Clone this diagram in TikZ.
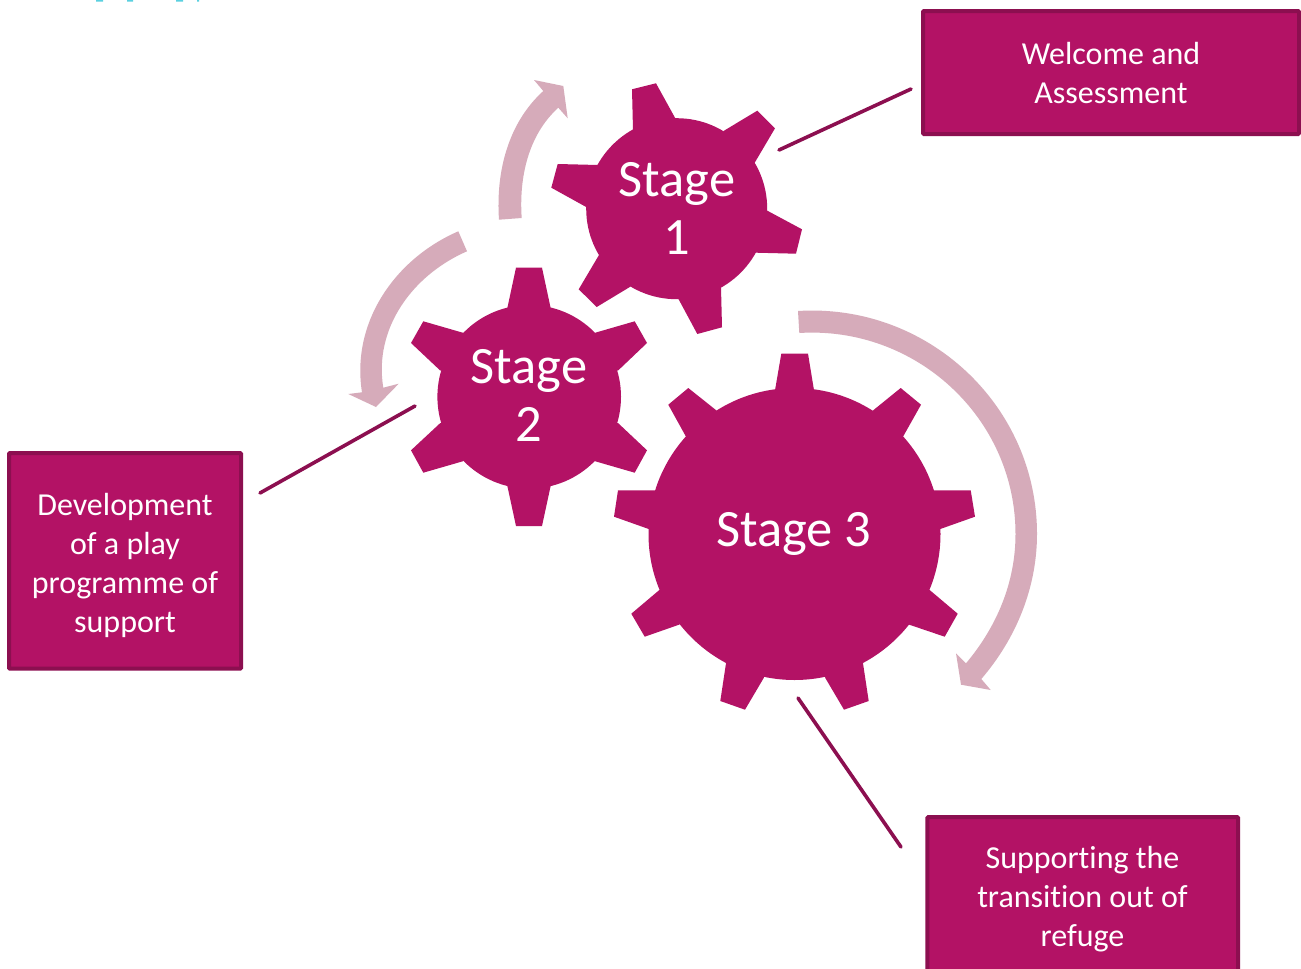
\documentclass[tikz,border=0pt]{standalone}
\usepackage{fontspec}
\setmainfont{Carlito}[Ligatures=CommonOff]
\definecolor{gearcol}{HTML}{B31265}
\definecolor{edgecol}{HTML}{8C0F50}
\definecolor{flowcol}{HTML}{D6ABBA}
\definecolor{topcol}{HTML}{5AD0E0}
\tikzset{
  gearfill/.style={fill=gearcol,draw=none},
  flowarrow/.style={fill=flowcol,draw=none},
  stagelabel/.style={text=white,align=center,inner sep=0pt,font=\fontsize{52.5}{58}\selectfont},
  infobox/.style={draw=edgecol,line width=4pt,fill=gearcol,inner sep=0pt,rounded corners=1pt},
  infotext/.style={text=white,align=center,inner sep=0pt,font=\fontsize{32}{39}\selectfont},
  leader/.style={draw=edgecol,line width=3.6pt,line cap=round}
}
\newcommand{\gearteeth}[3]{%
  \fill[gearfill] (#1) circle[radius=#2pt];
  \foreach \pa/\pb/\pc/\pd in {#3}{\fill[gearfill] (#1) -- (\pa) -- (\pb) -- (\pc) -- (\pd) -- cycle;}%
}
\begin{document}
\begin{tikzpicture}[x=1pt,y=-1pt]
\clip (0,0) rectangle (1301,969);
\fill[white] (0,0) rectangle (1301,969);
% clipped fragments at the top edge
\fill[topcol] (96,0) rectangle (103,1.5) (127,0) rectangle (133,1.5) (176,0) rectangle (183,1.5) (197,0) rectangle (199,1.5);
% gears
\coordinate (g1) at (676.7,208.7);
\coordinate (g2) at (529.2,396.8);
\coordinate (g3) at (794.5,534);
\gearteeth{g1}{90.5}{
 {633,130}/{632,89.3}/{656,83.3}/{675.3,118.3},
 {724,130.7}/{757.3,110.7}/{775,128.3}/{754.7,162.7},
 {767.3,210.7}/{802,229.3}/{796,253.7}/{756,252.7},
 {721,287.3}/{722,327.3}/{697.3,334}/{678.3,298.7},
 {630.3,286.7}/{596.7,307}/{578.7,289.3}/{599,255},
 {586.7,207.3}/{551.3,187.7}/{557.7,164}/{598,165}}
\gearteeth{g2}{91.8}{
 {507.3,308.3}/{516,267.7}/{542,267.7}/{550.7,308.3},
 {595.3,332.7}/{634.7,321.3}/{647,343}/{618.3,370.3},
 {618.3,423.3}/{647,450.3}/{634.7,472.7}/{595.3,461.3},
 {550.7,485.7}/{542,526}/{516,526}/{507.3,485.7},
 {462.7,461.3}/{423.3,472.7}/{411,450.3}/{440,423.3},
 {440,370.3}/{411,343}/{423.3,321.3}/{462.7,332.7}}
\gearteeth{g3}{146}{
 {775,390.3}/{781.3,353.7}/{808,353.7}/{814,390.3},
 {872.7,410.7}/{900.7,388}/{921,404.7}/{903,436.7},
 {933.3,490.3}/{970.7,490.3}/{975,516.7}/{940.3,529},
 {930,590.3}/{957.7,613.7}/{944.7,636.7}/{909.3,624.7},
 {863,663.3}/{868.7,701}/{844,709.7}/{825.3,678},
 {763.7,678}/{745,709.7}/{720.3,701}/{726,663.3},
 {679,624.7}/{644.7,636.7}/{631.3,613.7}/{659,590.3},
 {648.7,529}/{614,516.7}/{618,490.3}/{655.7,490.3},
 {686,436.7}/{668.3,404.7}/{688.3,388}/{716.7,410.7}}
\node[stagelabel] (s1) at (677,208) {Stage\\1};
\node[stagelabel] (s2) at (529,395) {Stage\\2};
\node[stagelabel] (s3) at (794,534) {Stage 3};
% flow arrows
\fill[flowarrow] (499,219.7) .. controls (495.7,172) and (508,123) .. (543.3,91)
  -- (534,80) -- (563.3,86) -- (567.7,118.3) -- (558.3,107.7)
  .. controls (528.2,135) and (518.9,177.4) .. (521.7,218) -- cycle;
\fill[flowarrow] (458.3,231.3) .. controls (393.8,259.4) and (351,323.4) .. (362,392.3)
  -- (348.3,394) -- (376,407) -- (398.7,383.7) -- (383.3,387.7)
  .. controls (373.5,328.9) and (412,275.3) .. (467,251.3) -- cycle;
\fill[flowarrow] (798,311) .. controls (926.8,302.9) and (1037,404.7) .. (1037,534)
  .. controls (1037,587.5) and (1016.2,638.4) .. (981.3,679)
  -- (990.7,690) -- (961,684.7) -- (956,653.3) -- (966,663.3)
  .. controls (997,626.4) and (1015.5,582.2) .. (1015.5,534)
  .. controls (1015.5,417.4) and (915.4,325.7) .. (799.3,333) -- cycle;
% boxes
\node[infobox,minimum width=376pt,minimum height=123pt] (b1) at (1111,72.5) {};
\node[infobox,minimum width=232pt,minimum height=215.7pt] (b2) at (125,560.85) {};
\node[infobox,minimum width=310.7pt,minimum height=164pt] (b3) at (1082.7,899) {};
\node[infotext] (t1) at (1111,73.5) {Welcome and\\Assessment};
\node[infotext] (t2) at (125,565) {Development\\of a play\\programme of\\support};
\node[infotext] (t3) at (1082.5,899) {Supporting the\\transition out of\\refuge};
% leaders
\coordinate (l1a) at (911,89); \coordinate (l1b) at (779,150);
\coordinate (l2a) at (415,406); \coordinate (l2b) at (260,493);
\coordinate (l3a) at (798,698); \coordinate (l3b) at (901,847);
\draw[leader] (l1a) -- (l1b);
\draw[leader] (l2a) -- (l2b);
\draw[leader] (l3a) -- (l3b);
\end{tikzpicture}
\end{document}
